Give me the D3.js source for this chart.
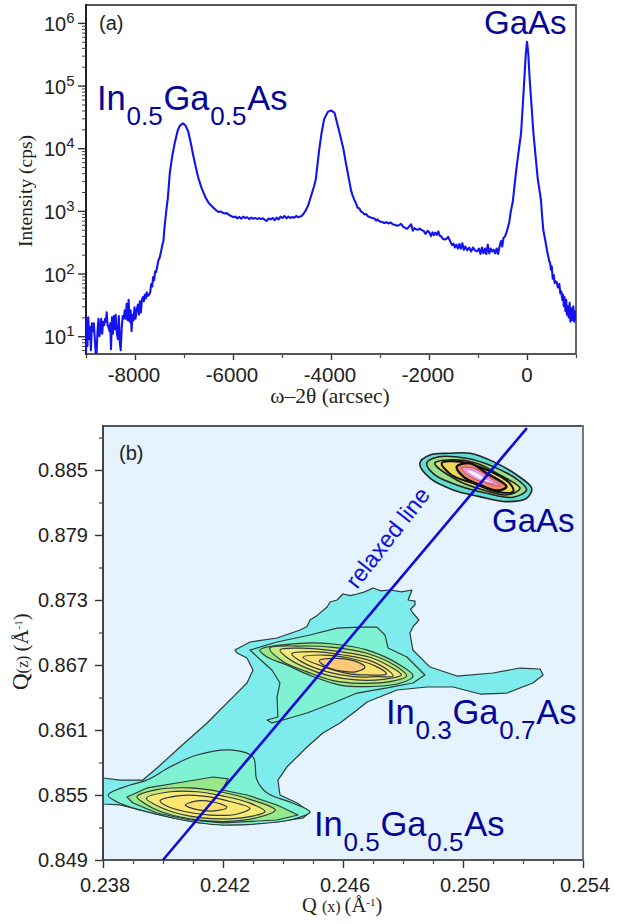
<!DOCTYPE html>
<html><head><meta charset="utf-8">
<script src="https://cdnjs.cloudflare.com/ajax/libs/d3/7.8.5/d3.min.js"></script>
<style>html,body{margin:0;padding:0;background:#fff}svg{display:block}</style>
</head><body><svg id="c" width="628" height="924"></svg>
<script>
// ---------- panel (a): omega-2theta scan ----------
const scanOmega = [-9000,-8985,-8970,-8955,-8935,-8915,-8900,-8880,-8860,-8840,-8820,-8800,-8785,-8765,-8745,-8725,-8705,-8690,-8670,-8650,-8630,-8610,-8595,-8578,-8560,-8540,-8520,-8505,-8490,-8470,-8450,-8430,-8410,-8395,-8375,-8350,-8330,-8310,-8292,-8270,-8250,-8230,-8210,-8190,-8170,-8150,-8130,-8110,-8090,-8070,-8050,-8030,-8010,-7990,-7970,-7940,-7920,-7900,-7880,-7860,-7840,-7820,-7800,-7780,-7760,-7740,-7710,-7690,-7670,-7650,-7630,-7610,-7590,-7570,-7550,-7520,-7500,-7470,-7440,-7420,-7400,-7375,-7350,-7330,-7290,-7240,-7190,-7130,-7085,-7020,-6970,-6915,-6860,-6810,-6760,-6710,-6640,-6570,-6500,-6400,-6330,-6290,-6250,-6210,-6170,-6125,-6080,-6040,-5990,-5950,-5910,-5870,-5830,-5790,-5750,-5710,-5670,-5630,-5590,-5550,-5510,-5470,-5430,-5390,-5350,-5310,-5270,-5230,-5190,-5150,-5110,-5070,-5030,-4990,-4950,-4910,-4870,-4830,-4790,-4750,-4710,-4670,-4630,-4600,-4560,-4520,-4465,-4410,-4347,-4310,-4240,-4190,-4140,-4065,-4000,-3930,-3850,-3800,-3745,-3700,-3660,-3620,-3590,-3558,-3520,-3490,-3455,-3420,-3390,-3350,-3320,-3280,-3240,-3200,-3160,-3115,-3080,-3050,-3010,-2960,-2910,-2870,-2830,-2780,-2740,-2700,-2650,-2610,-2570,-2530,-2480,-2440,-2400,-2365,-2330,-2300,-2270,-2230,-2190,-2150,-2110,-2070,-2030,-1990,-1960,-1930,-1900,-1870,-1840,-1810,-1780,-1750,-1710,-1680,-1640,-1610,-1570,-1530,-1500,-1470,-1440,-1410,-1380,-1350,-1320,-1290,-1260,-1220,-1180,-1140,-1100,-1060,-1020,-980,-950,-920,-890,-860,-830,-800,-770,-740,-710,-680,-650,-620,-590,-560,-530,-505,-480,-450,-420,-385,-360,-330,-313,-290,-225,-170,-120,-85,-55,-25,0,25,55,95,130,175,220,265,285,310,333,370,410,455,470,490,505,525,545,565,590,610,630,660,680,700,720,735,750,765,785,800,815,830,850,870,885,905,925,945,965,985,1000];
const scanCounts = [5.2,19,7,20,9,14,6,16,12,16,9,5.2,5.2,12,19,10,14,19,11,17,15,19,17,24,15,14,12,16,6.2,20,11,21,13,22,12,9,21,8,6,14,21,19,26,19,33,18,38,17,26,12,22,18,29,19,25,32,22,36,24,38,42,36,46,40,50,44,46,50,68,62,88,78,108,105,125,165,175,220,290,330,520,800,1200,1600,4000,7500,12000,19000,23000,25000,23000,18700,12000,7600,5000,3400,2300,1700,1350,1120,1000,960,980,930,910,920,860,830,790,810,760,800,750,810,770,790,740,780,750,770,745,765,740,760,720,690,760,730,770,710,780,730,810,770,830,760,810,770,800,780,830,790,810,830,900,1000,1230,1700,2450,3200,9600,18000,29000,38000,40000,37000,21000,14500,9600,6000,4100,2800,2100,1750,1480,1320,1120,1090,980,940,880,890,810,790,770,760,700,730,680,665,640,660,630,650,610,600,580,590,620,560,530,520,570,610,480,530,510,500,520,495,480,430,480,450,395,455,410,450,415,470,400,390,355,350,360,385,330,285,300,260,290,250,295,250,305,240,270,235,260,225,260,235,225,250,205,260,210,250,205,290,210,250,225,240,210,250,205,270,330,270,370,390,450,560,680,980,1150,1400,4100,9000,17800,50000,125000,320000,500000,330000,125000,45000,17800,7500,3200,1900,1480,800,490,350,230,155,150,115,130,83,95,70,75,72,60,68,48,52,38,46,30,42,25,38,22,30,20,34,17,28,18,30,17,25,18];
const scanDomainX = [-9000,1000];
const scanDomainY = [5.2,1930000];
const scanTicksX = [-8000,-6000,-4000,-2000,0];
const scanMinorX = [-9000,-7000,-5000,-3000,-1000,1000];
const scanDecades = [1,2,3,4,5,6];

// ---------- panel (b): reciprocal space map ----------
const mapDomainX = [0.238,0.254];
const mapDomainZ = [0.849,0.88906];
const mapTicksX = [0.238,0.242,0.246,0.250,0.254];
const mapMinorX = [0.239,0.240,0.241,0.243,0.244,0.245,0.247,0.248,0.249,0.251,0.252,0.253];
const mapTicksZ = [0.849,0.855,0.861,0.867,0.873,0.879,0.885];
const mapMinorZ = [0.852,0.858,0.864,0.870,0.876,0.882,0.888];
const relaxedLine = [[0.2400,0.8490],[0.25213,0.88887]];

const outerContour = [[.2424,.86838],[.2429,.86912],[.2438,.86949],[.24457,.87023],[.2448,.87055],[.2449,.87115],[.24515,.87160],[.24547,.87235],[.24557,.87281],[.2458,.87300],[.246,.87355],[.24625,.87340],[.24647,.87355],[.24672,.87375],[.247,.87411],[.24725,.87385],[.24757,.87392],[.24795,.87375],[.2483,.87392],[.24817,.873],[.24840,.87290],[.2484,.87254],[.24825,.87215],[.24833,.8718],[.24853,.87115],[.24835,.87060],[.24823,.86995],[.24833,.86838],[.2489,.86681],[.2498,.86598],[.251,.86626],[.2519,.86672],[.25257,.86663],[.25267,.86608],[.25233,.86534],[.25147,.86441],[.25057,.86432],[.24967,.86497],[.2488,.86497],[.2478,.86469],[.2468,.86358],[.24647,.86285],[.2459,.86165],[.24533,.86072],[.2448,.85943],[.24413,.85758],[.24383,.85638],[.2439,.8550],[.24447,.85426],[.2449,.85343],[.24467,.85288],[.2438,.85251],[.242,.85223],[.24123,.85242],[.24033,.85288],[.23923,.85362],[.23857,.85408],[.238,.85417],[.238,.85657],[.23857,.85638],[.23933,.85638],[.2398,.85749],[.24057,.85943],[.24147,.86165],[.2419,.86285],[.24233,.86404],[.2428,.86534],[.243,.86654],[.2428,.86764],[.24247,.86811]];
const upperLevel2 = [[.2429,.86838],[.2438,.86912],[.2449,.86977],[.2458,.87041],[.24657,.8705],[.24713,.8705],[.2474,.86977],[.2475,.86857],[.24813,.86774],[.24873,.86608],[.24833,.86534],[.24747,.86488],[.24647,.86441],[.24567,.86349],[.2448,.86257],[.244,.86192],[.24363,.86165],[.24347,.86192],[.24383,.8622],[.2438,.86404],[.2439,.86534],[.24363,.86654],[.24333,.86728]];
const upperLevel3 = [[.24323,.86839],[.24456,.869],[.24567,.86894],[.24679,.86839],[.2479,.867],[.24834,.86599],[.2479,.86531],[.24679,.865],[.2459,.86515],[.24501,.86592],[.24412,.867],[.24345,.86777]];
const upperLevel4 = [[.24356,.86854],[.24456,.86875],[.24567,.86863],[.24679,.86808],[.24779,.86685],[.24812,.86599],[.24756,.86546],[.24656,.86531],[.24567,.86556],[.24479,.86639],[.24401,.86731]];
const upperLevel5 = [[.2439,.86839],[.24479,.86854],[.2459,.86823],[.2469,.86771],[.24767,.8667],[.24795,.86608],[.24734,.86568],[.24645,.86562],[.24556,.86599],[.24467,.86685],[.24417,.86762]];
const upperLevel6 = [[.24429,.86802],[.24501,.86823],[.24601,.86792],[.2469,.86740],[.24756,.86639],[.24767,.86599],[.24712,.86592],[.24634,.86592],[.24545,.86639],[.24467,.86722]];
const upperLevel7 = [[.24467,.86771],[.24534,.86792],[.24623,.86762],[.24712,.86685],[.24745,.86617],[.24679,.86608],[.24612,.86623],[.24534,.86685]];
const upperCore = [[.24521,.8674],[.24579,.86762],[.24645,.86731],[.24673,.86679],[.24645,.86639],[.2459,.86645],[.2454,.86691]];

const lowerLevel2 = [[.23817,.8550],[.2389,.85592],[.23947,.85638],[.24023,.85758],[.24113,.85869],[.24233,.85915],[.243,.85851],[.24313,.85638],[.24347,.85518],[.24423,.85435],[.2449,.85343],[.24447,.85288],[.2438,.85251],[.242,.85223],[.24123,.85242],[.24033,.85288],[.23923,.85362],[.23847,.85435]];
const lowerLevel3 = [[.2388,.85481],[.23947,.85565],[.24067,.8562],[.24167,.85666],[.24217,.85648],[.24197,.85546],[.2428,.8550],[.2438,.85408],[.2445,.85315],[.2438,.85269],[.242,.85242],[.2409,.85269],[.2398,.85334],[.239,.85426]];
const lowerLevel4 = [[.23913,.85484],[.2398,.85550],[.2409,.85565],[.2419,.85530],[.2429,.85460],[.24374,.85361],[.24313,.8529],[.24201,.85255],[.2409,.85280],[.2399,.85350],[.23935,.85429]];
const lowerLevel5 = [[.23945,.8547],[.24024,.85530],[.24113,.85530],[.24201,.85490],[.2429,.85425],[.2434,.85346],[.24279,.85296],[.2419,.85280],[.2409,.85305],[.24001,.85375]];
const lowerLevel6 = [[.23990,.85445],[.24057,.85495],[.24135,.85490],[.24224,.85440],[.24290,.85377],[.24240,.85320],[.24157,.85315],[.24068,.85350],[.24012,.85398]];
const lowerLevel7 = [[.24074,.85407],[.24113,.85445],[.24168,.85435],[.24213,.85386],[.2418,.85355],[.24124,.85360],[.2409,.85383]];

const gaasLevel1 = [[.24856,.88562],[.2489,.88639],[.24956,.88654],[.25023,.88654],[.25101,.88577],[.25179,.88454],[.25229,.88331],[.25212,.88239],[.25145,.88208],[.25056,.88254],[.24967,.88316],[.2489,.88424]];
const gaasLevel2 = [[.24879,.88562],[.24912,.88617],[.25012,.88608],[.25101,.88531],[.2519,.88393],[.25212,.88316],[.25167,.88248],[.25079,.88285],[.24979,.88362],[.24906,.88454]];
const gaasLevel3 = [[.24906,.88562],[.24967,.88593],[.25045,.88562],[.25123,.88454],[.2519,.88331],[.25145,.8827],[.25067,.88316],[.24979,.88408]];
const gaasLevel4 = [[.24929,.88562],[.2499,.88577],[.25067,.88516],[.25156,.88377],[.25167,.883],[.25112,.883],[.25034,.88377],[.24962,.88454]];
const gaasLevel5 = [[.24979,.88531],[.25023,.88562],[.25079,.8847],[.25145,.88347],[.25112,.8831],[.25056,.88362],[.25001,.88439]];
const gaasLevel6 = [[.24995,.88516],[.25034,.88516],[.25084,.88439],[.25123,.88353],[.25084,.88377],[.25034,.88424]];
const gaasLevel7 = [[.25012,.885],[.2504,.88485],[.25079,.88414],[.25106,.88377],[.25073,.88393],[.25029,.88454]];

// ---------- drawing ----------
const svg = d3.select("#c");
const INK = "#222", NAVY = "#05059a", BLUE = "#1414f0";
const sans = "'Liberation Sans',Arial,sans-serif", serif = "'Liberation Serif','Times New Roman',serif";

function styleAxis(g, col, w){
  g.select(".domain").remove();
  g.selectAll("line").attr("stroke", col).attr("stroke-width", w);
  g.selectAll("text").remove();
}
function frame(l,t,r,b,colL,colT,colR,colB){
  svg.append("line").attr("x1",l).attr("x2",r).attr("y1",t).attr("y2",t).attr("stroke",colT).attr("stroke-width",2);
  svg.append("line").attr("x1",r).attr("x2",r).attr("y1",t-1).attr("y2",b+1).attr("stroke",colR).attr("stroke-width",2);
  svg.append("line").attr("x1",l).attr("x2",r).attr("y1",b).attr("y2",b).attr("stroke",colB).attr("stroke-width",2);
  svg.append("line").attr("x1",l).attr("x2",l).attr("y1",t-1).attr("y2",b+1).attr("stroke",colL).attr("stroke-width",2);
}
function alloy(x,y,parts,size,subSize,subDrop,gap){
  const t = svg.append("text").attr("x",x).attr("y",y).attr("fill",NAVY).attr("font-family",sans).attr("font-size",size);
  let lowered=false;
  parts.forEach((p,i)=>{
    const sub = i%2===1;
    const s = t.append("tspan").text(p).attr("font-size",sub?subSize:size);
    let dy = 0;
    if(sub&&!lowered){dy=subDrop;lowered=true;} else if(!sub&&lowered){dy=-subDrop;lowered=false;}
    if(dy) s.attr("dy",dy);
    if(i>0) s.attr("dx",gap);
  });
}

// panel a
const ax = d3.scaleLinear().domain(scanDomainX).range([86,576]);
const ay = d3.scaleLog().domain(scanDomainY).range([354,5]);
svg.append("defs").append("clipPath").attr("id","clipA").append("rect").attr("x",86).attr("y",5).attr("width",490).attr("height",349);
const minorY = [];
[0,1,2,3,4,5,6].forEach(k=>[2,3,4,5,6,7,8,9].forEach(m=>{const v=m*Math.pow(10,k); if(v>=scanDomainY[0]&&v<=scanDomainY[1]) minorY.push(v);}));
svg.append("g").attr("transform","translate(86,0)").call(d3.axisLeft(ay).tickValues(minorY).tickSize(4)).call(styleAxis,"#444",1);
svg.append("g").attr("transform","translate(86,0)").call(d3.axisLeft(ay).tickValues(scanDecades.map(k=>Math.pow(10,k))).tickSize(8)).call(styleAxis,"#333",1.4);
svg.append("g").attr("transform","translate(0,354)").call(d3.axisBottom(ax).tickValues(scanMinorX).tickSize(4)).call(styleAxis,"#444",1.2);
svg.append("g").attr("transform","translate(0,354)").call(d3.axisBottom(ax).tickValues(scanTicksX).tickSize(6)).call(styleAxis,"#333",1.4);
frame(86,5,576,354,"#222","#555","#666","#555");
svg.append("path").attr("clip-path","url(#clipA)")
  .attr("d",d3.line().x(d=>ax(d[0])).y(d=>ay(d[1]))(scanOmega.map((o,i)=>[o,scanCounts[i]])))
  .attr("fill","none").attr("stroke",BLUE).attr("stroke-width",2.1).attr("stroke-linejoin","round");
scanTicksX.forEach(v=>svg.append("text").attr("x",ax(v)-(v===0?0:1)).attr("y",382).attr("text-anchor","middle")
  .attr("font-family",sans).attr("font-size",20.5).attr("fill",INK).text(String(v)));
scanDecades.forEach(k=>{
  const t=svg.append("text").attr("x",44).attr("y",ay(Math.pow(10,k))+8).attr("font-family",sans).attr("font-size",20).attr("fill",INK);
  t.append("tspan").text("10");
  t.append("tspan").text(k).attr("font-size",15).attr("dy",-8);
});
svg.append("text").attr("x",330).attr("y",403).attr("text-anchor","middle").attr("font-family",serif).attr("font-size",21.5).attr("fill",INK).text("ω–2θ (arcsec)");
svg.append("text").attr("transform","translate(32,191) rotate(-90)").attr("text-anchor","middle").attr("font-family",serif).attr("font-size",19.5).attr("fill",INK).text("Intensity (cps)");
svg.append("text").attr("x",99).attr("y",30).attr("font-family",sans).attr("font-size",20).attr("fill",INK).text("(a)");
svg.append("text").attr("x",484).attr("y",34).attr("font-family",sans).attr("font-size",33).attr("fill",NAVY).text("GaAs");
alloy(97,110,["In","0.5","Ga","0.5","As"],34.5,26,15,.8);

// panel b
const bx = d3.scaleLinear().domain(mapDomainX).range([103,583]);
const bz = d3.scaleLinear().domain(mapDomainZ).range([860,426]);
svg.select("defs").append("clipPath").attr("id","clipB").append("rect").attr("x",103).attr("y",426).attr("width",480).attr("height",434);
svg.append("rect").attr("x",103).attr("y",426).attr("width",480).attr("height",433).attr("fill","#e4f3fd");
const contourLinear = d3.line().x(d=>bx(d[0])).y(d=>bz(d[1])).curve(d3.curveLinearClosed);
const contourSmooth = d3.line().x(d=>bx(d[0])).y(d=>bz(d[1])).curve(d3.curveCatmullRomClosed);
const layerG = svg.append("g").attr("clip-path","url(#clipB)");
function contour(pts,fill,gen,sw,stroke){
  layerG.append("path").attr("d",gen(pts)).attr("fill",fill).attr("stroke",stroke||"#2c3a3a").attr("stroke-width",sw||1.2).attr("stroke-linejoin","round");
}
contour(outerContour,"#7eecec",contourLinear);
contour(upperLevel2,"#7ff2d4",contourLinear);
contour(lowerLevel2,"#7ff2d4",contourSmooth);
contour(upperLevel3,"#96e88a",contourSmooth);
contour(upperLevel4,"#c8e87c",contourSmooth);
contour(upperLevel5,"#f5ea78",contourSmooth);
contour(upperLevel6,"#fbe873",contourSmooth);
contour(upperLevel7,"#fce070",contourSmooth);
contour(upperCore,"#fdc878",contourSmooth);
contour(lowerLevel3,"#96e88a",contourLinear);
contour(lowerLevel4,"#c8e87c",contourSmooth);
contour(lowerLevel5,"#f8ea72",contourSmooth);
contour(lowerLevel6,"#fce870",contourSmooth);
contour(lowerLevel7,"#fde070",contourSmooth);
contour(gaasLevel1,"#62dcd4",contourSmooth,1.6,"#222");
contour(gaasLevel2,"#9adf8a",contourSmooth,1.6,"#222");
contour(gaasLevel3,"#d8e070",contourSmooth,1.6,"#222");
contour(gaasLevel4,"#ecd858",contourSmooth,2,"#111");
contour(gaasLevel5,"#ee8a60",contourSmooth,2.4,"#111");
contour(gaasLevel6,"#f0a0d8",contourSmooth,.8,"#c03070");
contour(gaasLevel7,"#fbeeff",contourSmooth,.5,"#a060c0");

svg.append("g").attr("transform","translate(103,0)").call(d3.axisLeft(bz).tickValues(mapMinorZ).tickSize(4)).call(styleAxis,"#444",1.2);
svg.append("g").attr("transform","translate(103,0)").call(d3.axisLeft(bz).tickValues(mapTicksZ).tickSize(8)).call(styleAxis,"#333",1.4);
svg.append("g").attr("transform","translate(0,860)").call(d3.axisBottom(bx).tickValues(mapMinorX).tickSize(4)).call(styleAxis,"#444",1.2);
svg.append("g").attr("transform","translate(0,860)").call(d3.axisBottom(bx).tickValues(mapTicksX).tickSize(8)).call(styleAxis,"#333",1.4);
frame(103,426,583,860,"#444","#555","#777","#555");

svg.append("line").attr("x1",bx(relaxedLine[0][0])).attr("y1",bz(relaxedLine[0][1])).attr("x2",bx(relaxedLine[1][0])).attr("y2",bz(relaxedLine[1][1]))
  .attr("stroke","#0a0ae0").attr("stroke-width",2.6);

mapTicksZ.forEach(v=>svg.append("text").attr("x",88).attr("y",bz(v)+7).attr("text-anchor","end").attr("font-family",sans).attr("font-size",20).attr("fill",INK).text(d3.format(".3f")(v)));
mapTicksX.forEach(v=>svg.append("text").attr("x",bx(v)+2).attr("y",892).attr("text-anchor","middle").attr("font-family",sans).attr("font-size",20).attr("fill",INK).text(d3.format(".3f")(v)));

const qx = svg.append("text").attr("x",302).attr("y",912).attr("font-family",serif).attr("font-size",20.5).attr("fill",INK);
qx.append("tspan").text("Q ");
qx.append("tspan").text("(x) ").attr("font-size",16);
qx.append("tspan").text("(Å");
qx.append("tspan").text("-1").attr("font-size",11).attr("dy",-6);
qx.append("tspan").text(")").attr("dy",6);
const qz = svg.append("text").attr("transform","translate(28,690) rotate(-90)").attr("font-family",serif).attr("font-size",21).attr("fill",INK);
qz.append("tspan").text("Q").attr("font-size",23);
qz.append("tspan").text("(z) ").attr("font-size",16);
qz.append("tspan").text("(Å");
qz.append("tspan").text("-1").attr("font-size",11).attr("dy",-6);
qz.append("tspan").text(")").attr("dy",6);

svg.append("text").attr("x",119).attr("y",460).attr("font-family",sans).attr("font-size",20).attr("fill",INK).text("(b)");
svg.append("text").attr("x",492).attr("y",532).attr("font-family",sans).attr("font-size",33).attr("fill",NAVY).text("GaAs");
alloy(386,724,["In","0.3","Ga","0.7","As"],34.5,26,15,.8);
alloy(314,836,["In","0.5","Ga","0.5","As"],34.5,26,15,.8);
svg.append("text").attr("transform","translate(357,590) rotate(-52)").attr("font-family",sans).attr("font-size",23.5).attr("fill","#1010d8").text("relaxed line");
</script></body></html>
